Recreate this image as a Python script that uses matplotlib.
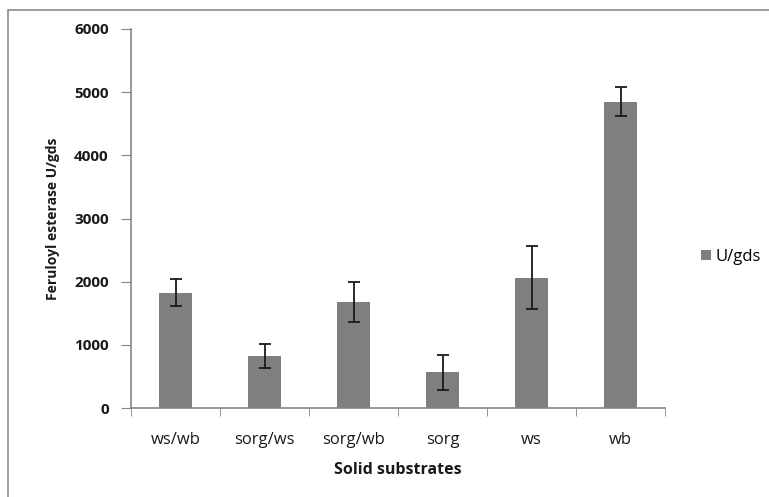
import matplotlib.pyplot as plt
from matplotlib.patches import Rectangle

substrates = ["ws/wb", "sorg/ws", "sorg/wb", "sorg", "ws", "wb"]
activity = [1825, 823, 1678, 565, 2063, 4849]
activity_err = [215, 190, 315, 275, 495, 225]

W, H = 769, 497
plt.rcParams["font.family"] = ["Open Sans", "DejaVu Sans"]

fig = plt.figure(figsize=(W / 100, H / 100), dpi=100)
ax = fig.add_axes([131 / W, (H - 408) / H, (665 - 131) / W, (408 - 29) / H])

# outer chart frame
fig.patches.append(Rectangle((8 / W, -0.05), 1.1, (H - 10) / H + 0.05,
                             transform=fig.transFigure, fill=False,
                             edgecolor="#8c8c8c", linewidth=1.2))

x = list(range(len(substrates)))
ax.bar(x, activity, width=0.38, color="#7f7f7f", label="U/gds", zorder=2)
ax.errorbar(x, activity, yerr=activity_err, fmt="none", ecolor="#1a1a1a",
            elinewidth=1.3, capsize=4, capthick=1.3, zorder=3)

ax.set_xlim(-0.5, len(substrates) - 0.5)
ax.set_ylim(0, 6000)
ax.set_yticks(range(0, 6001, 1000))
ax.set_yticklabels([str(v) for v in range(0, 6001, 1000)], fontsize=11,
                   fontweight="bold", color="#1a1a1a")
ax.set_xticks(x)
ax.set_xticklabels(substrates, fontsize=12, color="#1a1a1a")
ax.set_xticks([i - 0.5 for i in range(len(substrates) + 1)], minor=True)
ax.tick_params(axis="x", which="major", length=0, pad=17)
ax.tick_params(axis="x", which="minor", length=6, color="#868686", direction="out")
ax.tick_params(axis="y", length=7, color="#868686", direction="out", pad=9)

for side in ["top", "right"]:
    ax.spines[side].set_visible(False)
for side in ["left", "bottom"]:
    ax.spines[side].set_color("#868686")
    ax.spines[side].set_linewidth(1.2)

ax.set_xlabel("Solid substrates", fontsize=11.5, fontweight="bold",
              color="#1a1a1a", labelpad=10)
ax.set_ylabel("Feruloyl esterase U/gds", fontsize=10, fontweight="bold",
              color="#1a1a1a", labelpad=10)

fig.legend(loc="center left", bbox_to_anchor=(694 / W, (H - 257) / H),
           frameon=False, fontsize=12, handlelength=0.6, handleheight=0.6,
           handletextpad=0.3, borderaxespad=0)

fig.savefig("out.png", dpi=100)
